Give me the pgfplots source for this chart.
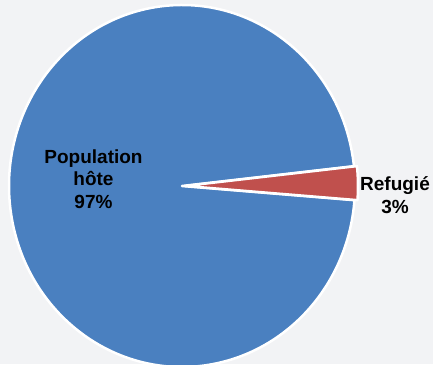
\documentclass[border=0pt]{standalone}
\usepackage{pgfplots}
\pgfplotsset{compat=1.18}
\usepackage{pgfplotstable}
\usetikzlibrary{calc}
\usepackage{fontspec}
\setmainfont{Liberation Sans}
\definecolor{bg}{HTML}{F2F3F5}
\definecolor{cblue}{HTML}{4A80C0}
\definecolor{cred}{HTML}{C0504D}
\pgfplotstableread{
label value
host 97
ref 3
}\piedata
\begin{document}
\begin{tikzpicture}
\useasboundingbox (0,0) rectangle (433pt,364pt);
\fill[bg] (0,0) rectangle (433pt,364pt);
\clip (0,0) rectangle (433pt,364pt);
\pgfplotstablegetelem{0}{value}\of\piedata
\pgfmathsetmacro{\vhost}{\pgfplotsretval}
\pgfplotstablegetelem{1}{value}\of\piedata
\pgfmathsetmacro{\vref}{\pgfplotsretval}
\pgfmathsetmacro{\total}{\vhost+\vref}
\pgfmathsetmacro{\rstart}{-4.5}
\pgfmathsetmacro{\rend}{\rstart+\vref/\total*360}
\pgfmathsetmacro{\hend}{\rend+\vhost/\total*360}
\pgfmathsetmacro{\rmid}{(\rstart+\rend)/2}
\begin{axis}[x=1pt,y=1pt,xmin=0,xmax=433,ymin=0,ymax=364,
  hide axis, scale only axis, clip=false,
  at={(0pt,0pt)}, anchor=origin]
\fill[cblue, draw=white, line width=2.5pt, line join=round]
  (axis cs:182,178) -- ++(\rend:173pt and 181pt)
  arc[start angle=\rend, end angle=\hend, x radius=173pt, y radius=181pt] -- cycle;
\fill[cred, draw=white, line width=2.5pt, line join=round]
  ($(axis cs:182,178)+(\rmid:3pt)$) -- ++(\rstart:173pt and 181pt)
  arc[start angle=\rstart, end angle=\rend, x radius=173pt, y radius=181pt] -- cycle;
\node[align=center, inner sep=0pt, font=\bfseries\fontsize{19}{22.5}\selectfont]
  at (axis cs:93.5,184.8) {Population\\hôte\\\pgfmathprintnumber[fixed,precision=0,assume math mode=true]{\vhost}\%};
\node[align=center, inner sep=0pt, font=\bfseries\fontsize{19}{22.5}\selectfont]
  at (axis cs:395,169) {Refugié\\\pgfmathprintnumber[fixed,precision=0,assume math mode=true]{\vref}\%};
\end{axis}
\end{tikzpicture}
\end{document}
